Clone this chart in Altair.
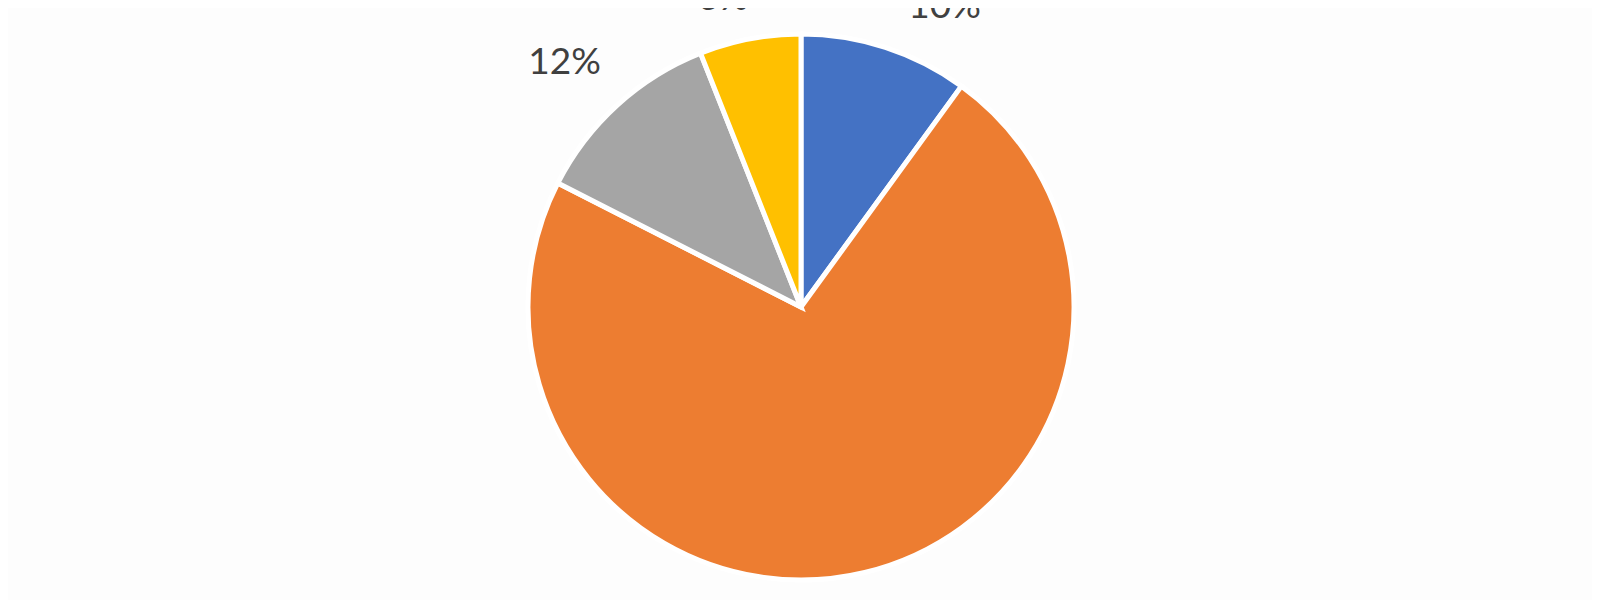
import altair as alt
import pandas as pd

categories = ["Blue", "Orange", "Gray", "Yellow"]
values = [10, 72.5, 11.5, 6]
labels = ["10%", "", "12%", "6%"]
colors = ["#4472C4", "#ED7D31", "#A5A5A5", "#FFC000"]

df = pd.DataFrame({
    "cat": categories,
    "value": values,
    "label": labels,
    "order": list(range(len(categories))),
})

cx, cy = 793, 299

base = alt.Chart(df).encode(
    theta=alt.Theta("value:Q", stack=True),
    order=alt.Order("order:Q"),
    x=alt.value(cx),
    y=alt.value(cy),
)

pie = base.mark_arc(outerRadius=273, stroke="white", strokeWidth=5).encode(
    color=alt.Color("cat:N", scale=alt.Scale(domain=categories, range=colors), legend=None)
)

label_style = dict(radius=335, fontSize=37, font="Lato", color="#404040",
                   align="center", baseline="middle")
offsets = {"Blue": (40, 19), "Gray": (-11, 4), "Yellow": (-15, 21)}

layers = [pie]
for cat, (ddx, ddy) in offsets.items():
    layers.append(
        base.mark_text(dx=ddx, dy=ddy, **label_style)
        .encode(text="label:N", opacity=alt.condition(alt.datum.cat == cat, alt.value(1), alt.value(0)))
    )

chart = alt.layer(*layers).properties(
    width=1584, height=592, padding=0,
    autosize=alt.AutoSizeParams(type="none"),
    background="#fdfdfd",
).configure_view(strokeWidth=0)

chart.save("out.html", embed_options={"renderer": "svg", "actions": False})
